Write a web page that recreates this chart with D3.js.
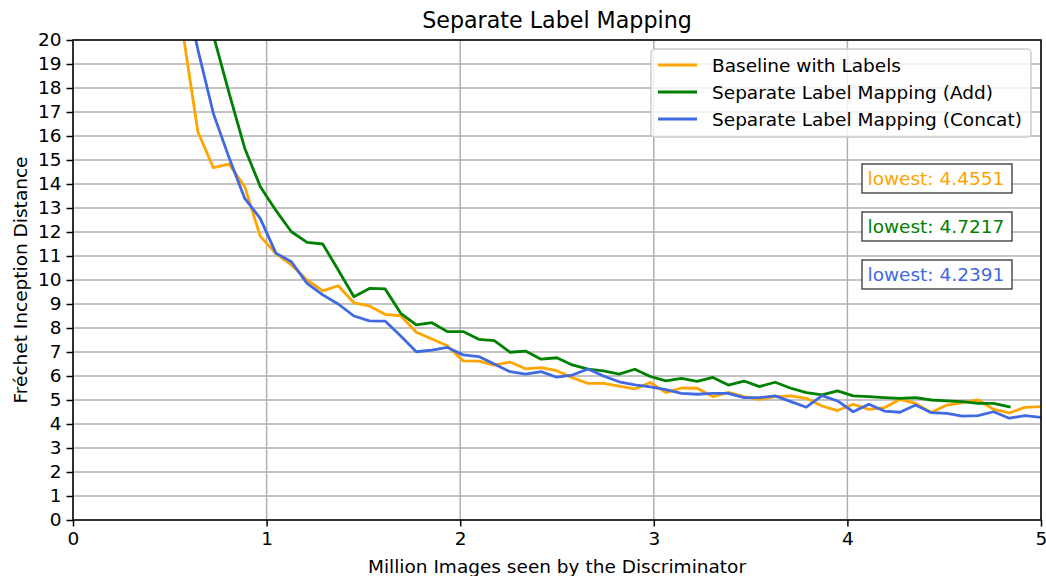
<!DOCTYPE html>
<html>
<head>
<meta charset="utf-8">
<script src="https://cdn.jsdelivr.net/npm/d3@7"></script>
<style>
    body { margin: 0; background: #fff; }
    svg { font-family: "DejaVu Sans", sans-serif; }
</style>
</head>
<body>
<div id="chart"></div>
<script>
// x positions (million images) of the logged points
const mimg = [
    0.081, 0.161, 0.242, 0.322, 0.403, 0.484, 0.564, 0.645, 0.725, 0.806,
    0.887, 0.967, 1.048, 1.128, 1.209, 1.290, 1.370, 1.451, 1.531, 1.612,
    1.693, 1.773, 1.854, 1.934, 2.015, 2.096, 2.176, 2.257, 2.337, 2.418,
    2.499, 2.579, 2.660, 2.740, 2.821, 2.902, 2.982, 3.063, 3.143, 3.224,
    3.305, 3.385, 3.466, 3.546, 3.627, 3.708, 3.788, 3.869, 3.949, 4.030,
    4.111, 4.191, 4.272, 4.352, 4.433, 4.514, 4.594, 4.675, 4.755, 4.836,
    4.917, 4.997
];

const baseline = [
    null, null, null, null, null, null, 20.5, 16.18, 14.68, 14.83,
    13.89, 11.83, 11.1, 10.63, 10.0, 9.55, 9.76, 9.05, 8.92, 8.57,
    8.51, 7.82, 7.54, 7.26, 6.63, 6.62, 6.45, 6.58, 6.30, 6.35,
    6.22, 5.93, 5.69, 5.69, 5.58, 5.46, 5.73, 5.31, 5.50, 5.49,
    5.14, 5.32, 5.14, 5.03, 5.14, 5.17, 5.07, 4.75, 4.56, 4.82,
    4.61, 4.68, 5.03, 4.86, 4.48, 4.79, 4.89, 5.00, 4.61, 4.46,
    4.69, 4.72
];

const addMapping = [
    null, null, null, null, null, null, null, null, 20.2, 17.8,
    15.49, 13.9, 12.9, 12.01, 11.57, 11.5, 10.42, 9.3, 9.65, 9.63,
    8.61, 8.13, 8.22, 7.85, 7.85, 7.53, 7.47, 6.99, 7.04, 6.70,
    6.76, 6.46, 6.29, 6.21, 6.08, 6.28, 5.98, 5.80, 5.90, 5.78,
    5.94, 5.62, 5.79, 5.56, 5.74, 5.49, 5.31, 5.21, 5.38, 5.17,
    5.14, 5.10, 5.07, 5.10, 5.00, 4.96, 4.93, 4.86, 4.86, 4.72,
    null, null
];

const concatMapping = [
    null, null, null, null, null, null, 22.6, 19.6, 16.94, 15.1,
    13.4, 12.57, 11.12, 10.76, 9.86, 9.38, 9.0, 8.5, 8.3, 8.29,
    7.67, 7.01, 7.08, 7.19, 6.88, 6.81, 6.5, 6.18, 6.08, 6.18,
    5.95, 6.04, 6.29, 6.0, 5.76, 5.63, 5.55, 5.43, 5.28, 5.24,
    5.28, 5.28, 5.10, 5.10, 5.17, 4.93, 4.70, 5.18, 4.96, 4.51,
    4.82, 4.54, 4.49, 4.79, 4.47, 4.44, 4.33, 4.35, 4.51, 4.24,
    4.35, 4.28
];

const seriesNames = [
    "Baseline with Labels",
    "Separate Label Mapping (Add)",
    "Separate Label Mapping (Concat)"
];
const seriesColors = ["orange", "green", "royalblue"];
const lowestLabels = ["lowest: 4.4551", "lowest: 4.7217", "lowest: 4.2391"];

const xTicks = [0, 1, 2, 3, 4, 5];
const yTicks = d3.range(0, 21);

const w = 1046;
const h = 576;
const margin = { top: 40, left: 73 };
const innerW = 1041 - margin.left;
const innerH = 520 - margin.top;
const fontSize = 18.5;

const xScale = d3.scaleLinear().domain([0, 5]).range([0, innerW]);
const yScale = d3.scaleLinear().domain([0, 20]).range([innerH, 0]);

const svg = d3.select("#chart")
    .append("svg")
    .attr("width", w)
    .attr("height", h);

const g = svg.append("g")
    .attr("transform", `translate(${margin.left},${margin.top})`);

g.append("clipPath").attr("id", "clip")
    .append("rect").attr("width", innerW).attr("height", innerH);

// grid
g.append("g").selectAll("line").data(yTicks).enter().append("line")
    .attr("x1", 0).attr("x2", innerW)
    .attr("y1", (d) => yScale(d)).attr("y2", (d) => yScale(d))
    .attr("stroke", "#b0b0b0").attr("stroke-width", 1.5);
g.append("g").selectAll("line").data(xTicks).enter().append("line")
    .attr("y1", 0).attr("y2", innerH)
    .attr("x1", (d) => xScale(d)).attr("x2", (d) => xScale(d))
    .attr("stroke", "#b0b0b0").attr("stroke-width", 1.5);

// lines
const allSeries = [baseline, addMapping, concatMapping];
const line = d3.line()
    .defined((d) => d[1] != null)
    .x((d) => xScale(d[0]))
    .y((d) => yScale(d[1]));

g.append("g").attr("clip-path", "url(#clip)")
    .selectAll("path").data(allSeries).enter().append("path")
    .attr("d", (s) => line(s.map((v, i) => [mimg[i], v])))
    .attr("fill", "none")
    .attr("stroke", (s, i) => seriesColors[i])
    .attr("stroke-width", 2.8)
    .attr("stroke-linejoin", "round")
    .attr("stroke-linecap", "square");

// axes
const xAxis = d3.axisBottom(xScale).tickValues(xTicks).tickSize(6.5).tickPadding(5).tickFormat(d3.format("d"));
const yAxis = d3.axisLeft(yScale).tickValues(yTicks).tickSize(6.5).tickPadding(5).tickFormat(d3.format("d"));

g.append("g").attr("transform", `translate(0,${innerH})`).call(xAxis)
    .call((a) => a.select(".domain").remove());
g.append("g").call(yAxis)
    .call((a) => a.select(".domain").remove());
g.selectAll(".tick text").attr("font-size", fontSize).attr("fill", "#000")
    .attr("font-family", "DejaVu Sans");
g.selectAll(".tick line").attr("stroke", "#000").attr("stroke-width", 1.5);

// spines
g.append("rect").attr("width", innerW).attr("height", innerH)
    .attr("fill", "none").attr("stroke", "#000").attr("stroke-width", 1.5);

// titles
svg.append("text").attr("x", margin.left + innerW / 2).attr("y", 28)
    .attr("text-anchor", "middle").attr("font-size", 22.2)
    .text("Separate Label Mapping");
svg.append("text").attr("x", margin.left + innerW / 2).attr("y", 573)
    .attr("text-anchor", "middle").attr("font-size", fontSize)
    .text("Million Images seen by the Discriminator");
svg.append("text")
    .attr("transform", `translate(27,${margin.top + innerH / 2}) rotate(-90)`)
    .attr("text-anchor", "middle").attr("font-size", fontSize)
    .text("Fréchet Inception Distance");

// legend
const legend = svg.append("g").attr("transform", "translate(651,49)");
legend.append("rect").attr("width", 380).attr("height", 88).attr("rx", 4)
    .attr("fill", "#fff").attr("fill-opacity", 0.8)
    .attr("stroke", "#cccccc").attr("stroke-width", 1.5);
seriesNames.forEach((name, i) => {
    const row = legend.append("g").attr("transform", `translate(0,${16 + i * 27})`);
    row.append("line").attr("x1", 7).attr("x2", 46)
        .attr("stroke", seriesColors[i]).attr("stroke-width", 2.8);
    row.append("text").attr("x", 61).attr("y", 6.5).attr("font-size", fontSize).text(name);
});

// lowest value boxes
lowestLabels.forEach((lbl, i) => {
    const b = svg.append("g").attr("transform", `translate(862,${164 + i * 48})`);
    b.append("rect").attr("width", 150).attr("height", 29)
        .attr("fill", "#fff").attr("stroke", "#333").attr("stroke-width", 1.3);
    b.append("text").attr("x", 5.5).attr("y", 21).attr("font-size", fontSize)
        .attr("fill", seriesColors[i]).text(lbl);
});
</script>
</body>
</html>
